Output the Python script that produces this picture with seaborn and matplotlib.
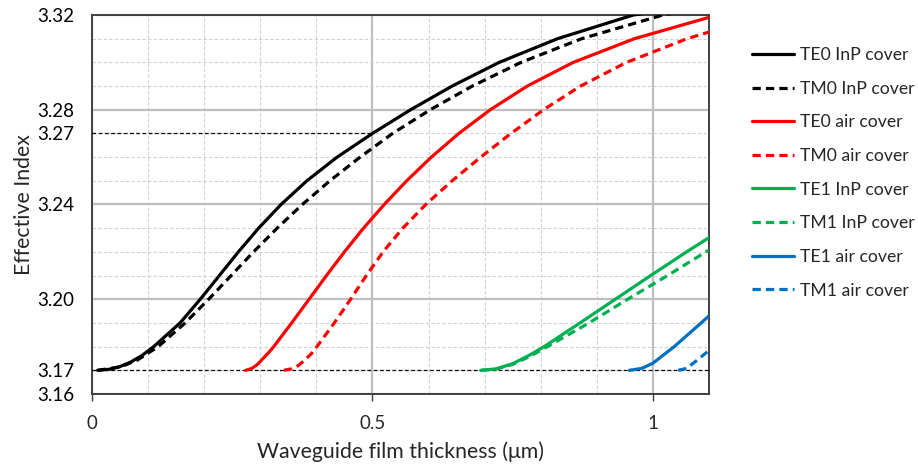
import matplotlib
matplotlib.use("Agg")
import matplotlib.pyplot as plt
import seaborn as sns
import numpy as np
import pandas as pd
from matplotlib.ticker import MultipleLocator, FuncFormatter

# ---------------- data ----------------
te0_inp_x = [0.010, 0.030, 0.050, 0.070, 0.090, 0.110, 0.157, 0.193, 0.227, 0.261,
             0.297, 0.337, 0.383, 0.437, 0.500, 0.568, 0.642, 0.726, 0.830, 0.965, 1.100]
te0_inp_y = [3.1700, 3.1704, 3.1716, 3.1736, 3.1764, 3.1800, 3.1900, 3.2000, 3.2100, 3.2200,
             3.2300, 3.2400, 3.2500, 3.2600, 3.2700, 3.2800, 3.2900, 3.3000, 3.3100, 3.3200,
             3.3245]

tm0_inp_x = [0.010, 0.050, 0.080, 0.118, 0.166, 0.208, 0.248, 0.288, 0.330, 0.375,
             0.424, 0.478, 0.536, 0.603, 0.678, 0.765, 0.873, 1.018, 1.100]
tm0_inp_y = [3.1700, 3.1714, 3.1742, 3.1800, 3.1900, 3.2000, 3.2100, 3.2200, 3.2300, 3.2400,
             3.2500, 3.2600, 3.2700, 3.2800, 3.2900, 3.3000, 3.3100, 3.3200, 3.3235]

te0_air_x = [0.274, 0.285, 0.295, 0.305, 0.315, 0.324, 0.356, 0.387, 0.418, 0.450,
             0.484, 0.521, 0.561, 0.605, 0.654, 0.710, 0.776, 0.858, 0.967, 1.100]
te0_air_y = [3.1700, 3.1708, 3.1725, 3.1750, 3.1775, 3.1800, 3.1900, 3.2000, 3.2100, 3.2200,
             3.2300, 3.2400, 3.2500, 3.2600, 3.2700, 3.2800, 3.2900, 3.3000, 3.3100, 3.3190]

tm0_air_x = [0.342, 0.355, 0.368, 0.380, 0.391, 0.401, 0.432, 0.461, 0.489, 0.519,
             0.554, 0.595, 0.642, 0.693, 0.747, 0.805, 0.871, 0.953, 1.061, 1.100]
tm0_air_y = [3.1700, 3.1706, 3.1720, 3.1745, 3.1770, 3.1800, 3.1900, 3.2000, 3.2100, 3.2200,
             3.2300, 3.2400, 3.2500, 3.2600, 3.2700, 3.2800, 3.2900, 3.3000, 3.3100, 3.3128]

te1_inp_x = [0.693, 0.720, 0.750, 0.780, 0.806, 0.870, 0.933, 0.996, 1.060, 1.100]
te1_inp_y = [3.1700, 3.1706, 3.1728, 3.1764, 3.1800, 3.1900, 3.2000, 3.2100, 3.2200, 3.2260]

tm1_inp_x = [0.695, 0.720, 0.750, 0.780, 0.812, 0.886, 0.955, 1.026, 1.100]
tm1_inp_y = [3.1700, 3.1705, 3.1725, 3.1758, 3.1800, 3.1900, 3.2000, 3.2100, 3.2208]

te1_air_x = [0.958, 0.980, 1.000, 1.038, 1.086, 1.100]
te1_air_y = [3.1700, 3.1708, 3.1730, 3.1800, 3.1900, 3.1930]

tm1_air_x = [1.045, 1.060, 1.080, 1.100]
tm1_air_y = [3.1700, 3.1708, 3.1745, 3.1784]

labels = ["TE0 InP cover", "TM0 InP cover", "TE0 air cover", "TM0 air cover",
          "TE1 InP cover", "TM1 InP cover", "TE1 air cover", "TM1 air cover"]
colors = ["#000000", "#000000", "#ff0000", "#ff0000",
          "#00b050", "#00b050", "#0070c0", "#0070c0"]
dashed = [False, True, False, True, False, True, False, True]
xs = [te0_inp_x, tm0_inp_x, te0_air_x, tm0_air_x, te1_inp_x, tm1_inp_x, te1_air_x, tm1_air_x]
ys = [te0_inp_y, tm0_inp_y, te0_air_y, tm0_air_y, te1_inp_y, tm1_inp_y, te1_air_y, tm1_air_y]

# reference lines
cutoff_x = [0.0, 1.1]
cutoff_y = [3.17, 3.17]
target_x = [0.0, 0.5]
target_y = [3.27, 3.27]

y_extra_labels = [3.17, 3.27]

# ---------------- plot ----------------
sns.set_theme(style="white")
plt.rcParams["font.family"] = ["Lato", "DejaVu Sans"]

fig = plt.figure(figsize=(9.18, 4.67), dpi=100)
ax = fig.add_axes([92/918, 1-394/467, (709-92)/918, (394-15)/467])

ref_dash = (0, (3, 2))
sns.lineplot(x=cutoff_x, y=cutoff_y, ax=ax, color="black", lw=0.9,
             linestyle=ref_dash, legend=False, zorder=3)
sns.lineplot(x=target_x, y=target_y, ax=ax, color="black", lw=0.9,
             linestyle=ref_dash, legend=False, zorder=3)

handles = []
for x, y, lab, c, d in zip(xs, ys, labels, colors, dashed):
    df = pd.DataFrame({"x": x, "y": y})
    ls = (0, (2.6, 1.6)) if d else "-"
    sns.lineplot(data=df, x="x", y="y", ax=ax, color=c, lw=2.3, linestyle=ls,
                 sort=False, estimator=None, legend=False, zorder=4)
    ax.lines[-1].set_solid_joinstyle("round")
    ax.lines[-1].set_dash_joinstyle("round")
    handles.append(ax.lines[-1])

ax.set_xlim(0, 1.1)
ax.set_ylim(3.16, 3.32)

ax.xaxis.set_major_locator(MultipleLocator(0.5))
ax.xaxis.set_minor_locator(MultipleLocator(0.1))
ax.yaxis.set_major_locator(MultipleLocator(0.04))
ax.yaxis.set_minor_locator(MultipleLocator(0.01))
ax.xaxis.set_major_formatter(FuncFormatter(lambda v, p: f"{v:g}"))
ax.yaxis.set_major_formatter(FuncFormatter(lambda v, p: f"{v:.2f}"))
ax.yaxis.set_minor_formatter(FuncFormatter(
    lambda v, p: f"{v:.2f}" if any(abs(v - t) < 1e-6 for t in y_extra_labels) else ""))

ax.grid(which="major", color="#bfbfbf", lw=1.6, zorder=0)
ax.grid(which="minor", color="#d0d0d0", lw=0.8, linestyle=(0, (3, 2)), zorder=0)
ax.set_axisbelow(True)

ax.tick_params(axis="y", which="both", length=0, pad=13, labelsize=13.5, colors="#000000")
ax.tick_params(axis="x", which="major", length=5, width=1, pad=10, labelsize=13.5,
               direction="out", bottom=True, color="#404040")
ax.tick_params(axis="x", which="minor", length=0)

for s in ax.spines.values():
    s.set_color("#404040")
    s.set_linewidth(1.4)
    s.set_visible(True)

ax.set_xlabel("Waveguide film thickness (\u03bcm)", fontsize=15.3, labelpad=7)
ax.set_ylabel("Effective Index", fontsize=15.3, labelpad=2)

fig.legend(handles, labels, loc="upper left", bbox_to_anchor=(745/918, 1-40/467),
           frameon=False, fontsize=12.7, handlelength=2.4, handletextpad=0.3,
           labelspacing=1.0, borderaxespad=0)

fig.savefig("out.png", dpi=100)
